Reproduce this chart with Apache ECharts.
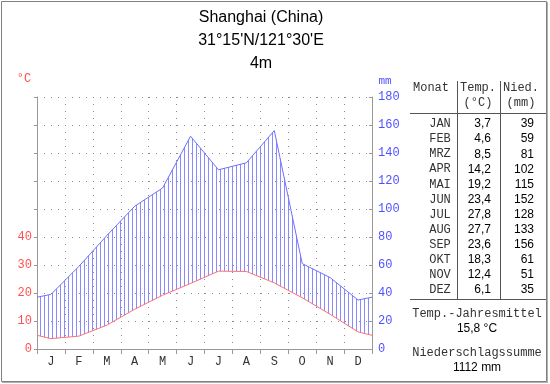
<!DOCTYPE html>
<html><head><meta charset="utf-8">
<script src="https://cdn.jsdelivr.net/npm/echarts@6/dist/echarts.min.js"></script>
<style>html,body{margin:0;padding:0;background:#fff}#c{width:550px;height:384px}</style>
</head><body><div id="c"></div>
<script>
const monthLetters = ['J','F','M','A','M','J','J','A','S','O','N','D'];
const monthNames = ['JAN','FEB','MRZ','APR','MAI','JUN','JUL','AUG','SEP','OKT','NOV','DEZ'];
const temperature = [3.7,4.6,8.5,14.2,19.2,23.4,27.8,27.7,23.6,18.3,12.4,6.1];
const precipitation = [39,59,81,102,115,152,128,133,156,61,51,35];
const tempLabelMax = 40;
const titleLines = ['Shanghai (China)', "31\u00b015'N/121\u00b030'E", '4m'];

// points at month centres, closed at the year boundary (Dec/Jan mean)
function withEdges(arr, scale) {
  const edge = (arr[0] + arr[arr.length - 1]) / 2 * scale;
  const pts = [[0, edge]];
  arr.forEach((v, i) => pts.push([i + 0.5, v * scale]));
  pts.push([arr.length, edge]);
  return pts;
}
const tempPts = withEdges(temperature, 1);
const tempMmPts = withEdges(temperature, 2);
const precPts = withEdges(precipitation, 1);

const hatch = document.createElement('canvas');
hatch.width = 4; hatch.height = 4;
const hctx = hatch.getContext('2d');
hctx.fillStyle = '#8a8aff';
hctx.fillRect(0, 0, 1, 4);

const fmt = v => v.toFixed(1).replace('.', ',');
const mean = temperature.reduce((a, b) => a + b, 0) / temperature.length;
const total = precipitation.reduce((a, b) => a + b, 0);

const MONO = "'Liberation Mono', monospace";
const SANS = "'Liberation Sans', Arial, sans-serif";
function txt(text, x, y, font, fill, align) {
  return {type: 'text', x: x, y: y, silent: true,
    style: {text: text, font: font, fill: fill, textFill: fill,
      align: align || 'center', textAlign: align || 'center',
      verticalAlign: 'middle', textVerticalAlign: 'middle'}};
}
function line(x1, y1, x2, y2, color, w) {
  return {type: 'line', silent: true, shape: {x1: x1, y1: y1, x2: x2, y2: y2},
    style: {stroke: color || '#555', lineWidth: w || 1}};
}

const graphics = [];
graphics.push({type: 'rect', silent: true, shape: {x: 1.5, y: 1.5, width: 545, height: 380},
  style: {fill: 'none', stroke: '#808080', lineWidth: 1}});
graphics.push(line(547.5, 2, 547.5, 383, '#b0b0b0', 1));
graphics.push(line(2, 382.5, 548, 382.5, '#b0b0b0', 1));
titleLines.forEach((t, i) => graphics.push(txt(t, 261, 18 + i * 23, '16px ' + SANS, '#000')));
graphics.push(txt('\u00b0C', 24, 79, '12px ' + MONO, '#ff5050'));
graphics.push(txt('mm', 385, 81, '11px ' + MONO, '#5050ff'));
// table
graphics.push(line(457.5, 81, 457.5, 299, '#555'));
graphics.push(line(500.5, 81, 500.5, 299, '#555'));
graphics.push(line(410, 113.5, 546, 113.5, '#555'));
graphics.push(line(410, 299.5, 546, 299.5, '#555'));
graphics.push(txt('Monat', 431, 88, '12px ' + MONO, '#333'));
graphics.push(txt('Temp.', 478, 88, '12px ' + MONO, '#333'));
graphics.push(txt('(\u00b0C)', 478, 103, '12px ' + MONO, '#333'));
graphics.push(txt('Nied.', 521, 88, '12px ' + MONO, '#333'));
graphics.push(txt('(mm)', 521, 103, '12px ' + MONO, '#333'));
monthNames.forEach((m, i) => {
  const y = 124 + i * 15.1;
  graphics.push(txt(m, 440, y, '12px ' + MONO, '#333'));
  graphics.push(txt(fmt(temperature[i]), 491, y, '12px ' + SANS, '#000', 'right'));
  graphics.push(txt(String(precipitation[i]), 534, y, '12px ' + SANS, '#000', 'right'));
});
graphics.push(txt('Temp.-Jahresmittel', 477, 314, '12px ' + MONO, '#333'));
graphics.push(txt(fmt(mean) + ' \u00b0C', 477, 329, '12px ' + SANS, '#000'));
graphics.push(txt('Niederschlagssumme', 477, 353, '12px ' + MONO, '#333'));
graphics.push(txt(total + ' mm', 477, 368, '12px ' + SANS, '#000'));

const dotted = {show: true, lineStyle: {color: '#8a8a8a', type: [1, 6], width: 1}};
const chart = echarts.init(document.getElementById('c'), null, {renderer: 'canvas'});
chart.setOption({
  animation: false,
  backgroundColor: '#fff',
  grid: {left: 37, right: 178, top: 97, bottom: 35, containLabel: false},
  xAxis: [
    {type: 'category', data: monthLetters, boundaryGap: true, position: 'bottom',
     axisLine: {lineStyle: {color: '#999'}},
     axisTick: {show: true, length: 5, lineStyle: {color: '#999'}},
     axisLabel: {color: '#333', fontFamily: MONO, fontSize: 12, margin: 7},
     splitLine: dotted},
    {type: 'value', min: 0, max: 12, show: false}
  ],
  yAxis: [
    {type: 'value', min: 0, max: 90, interval: 10, position: 'left',
     axisLine: {show: true, lineStyle: {color: '#999'}},
     axisTick: {show: true, length: 3, lineStyle: {color: '#999'}},
     axisLabel: {color: '#ff5050', fontFamily: MONO, fontSize: 12, margin: 5,
       formatter: v => (v <= tempLabelMax ? String(v) : '')},
     splitLine: dotted},
    {type: 'value', min: 0, max: 180, interval: 20, position: 'right',
     axisLine: {show: true, lineStyle: {color: '#999'}},
     axisTick: {show: true, inside: true, length: 3, lineStyle: {color: '#999'}},
     axisLabel: {color: '#5050ff', fontFamily: MONO, fontSize: 12, margin: 6},
     splitLine: {show: false}}
  ],
  series: [
    {type: 'custom', xAxisIndex: 1, yAxisIndex: 1, data: [0], silent: true, z: 2,
     renderItem: function (params, api) {
       const upper = precPts.map(p => api.coord(p));
       const lower = tempMmPts.map(p => api.coord(p)).reverse();
       return {type: 'polygon', shape: {points: upper.concat(lower)},
         style: {fill: {image: hatch, repeat: 'repeat'}, stroke: null}};
     }},
    {type: 'line', xAxisIndex: 1, yAxisIndex: 1, data: precPts, symbol: 'none',
     lineStyle: {color: '#7070ff', width: 1}, silent: true, z: 3},
    {type: 'line', xAxisIndex: 1, yAxisIndex: 0, data: tempPts, symbol: 'none',
     lineStyle: {color: '#ff7070', width: 1}, silent: true, z: 3}
  ],
  graphic: graphics
});
</script>
</body></html>
